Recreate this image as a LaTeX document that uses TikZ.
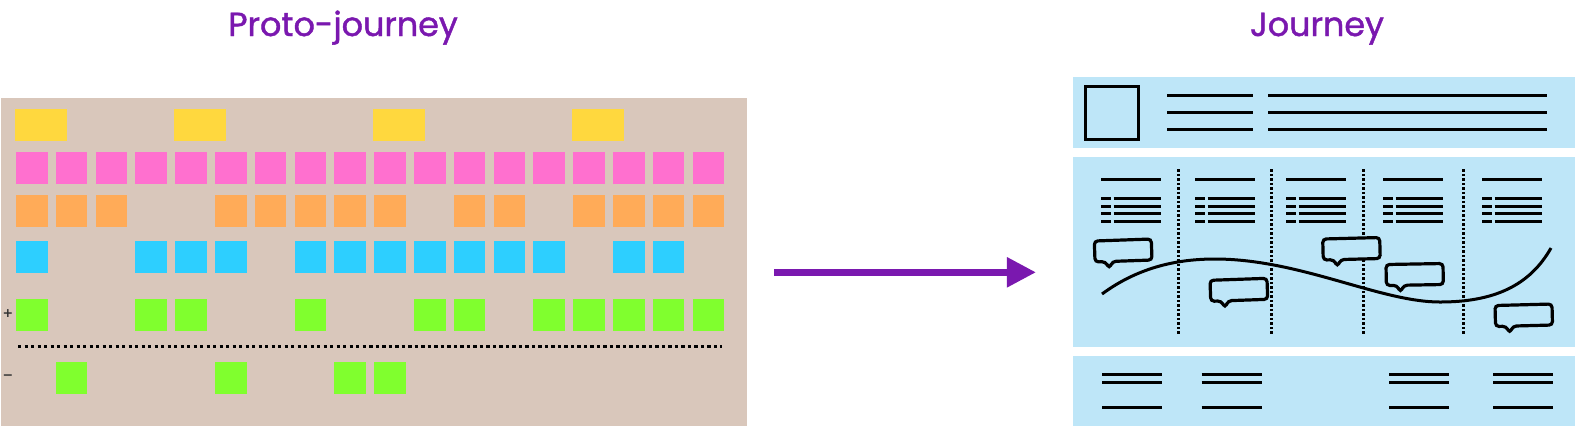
\documentclass[tikz,border=0pt]{standalone}
\usepackage{fontspec}
\newfontfamily\titlefont[FakeBold=1.3]{Poppins}
\newfontfamily\signfont{DejaVu Sans}
\usetikzlibrary{arrows.meta}

\begin{document}
\begin{tikzpicture}[x=0.01cm, y=-0.01cm]

  % --- Rahmen (1 Einheit = 1 Pixel der Vorlage) ---
  \useasboundingbox (0,0) rectangle (1575,426);

  % --- Farben ---
  \definecolor{colTitle}{HTML}{7A18AF} % Lila   – Titel und Pfeil
  \definecolor{colBoard}{HTML}{D9C7BB} % Beige  – Pinnwand
  \definecolor{colYel}{HTML}{FFD83E}   % Gelb   – Phasen
  \definecolor{colPink}{HTML}{FF70CF}  % Pink   – Schritte
  \definecolor{colOra}{HTML}{FFAB58}   % Orange
  \definecolor{colCyan}{HTML}{2DCFFF}  % Cyan
  \definecolor{colGreen}{HTML}{80FF2E} % Gruen  – Gefuehle
  \definecolor{colSky}{HTML}{BEE6F8}   % Hellblau – Journey-Felder

  % --- Hilfsmakros ---
  % \postit{Spalte}{Oberkante}{Farbe}
  \newcommand{\postit}[3]{%
    \fill[#3] ({16+39.8*#1},#2) rectangle ++(31.5,31.5);
  }
  % \phasecol{linker Rand}: Ueberschrift und Liste einer Spalte
  \newcommand{\phasecol}[1]{%
    \draw[line width=0.3mm] (#1,179.3) -- ++(60,0);
    \foreach \yy in {198.3,206,213.7,221.3} {
      \draw[line width=0.3mm] (#1,\yy) -- ++(9.5,0);
      \draw[line width=0.3mm] ({#1+12.5},\yy) -- ++(47.5,0);
    }
  }
  % \speech{x}{y}{Drehung}: Sprechblase
  \newcommand{\speech}[3]{%
    \begin{scope}[shift={(#1,#2)}, rotate=#3]
      \draw[line width=0.32mm, rounded corners=1pt, fill=colSky]
        (0,0) -- (57,0) -- (57,21) -- (17.5,21) -- (14,28) -- (10.5,21) -- (0,21) -- cycle;
    \end{scope}
  }

  % --- Titel ---
  \node[colTitle, anchor=base, font=\titlefont\fontsize{9.5}{11}\selectfont]
    (protoTitle) at (343,36) {Proto-journey};
  \node[colTitle, anchor=base, font=\titlefont\fontsize{9.5}{11}\selectfont]
    (journeyTitle) at (1317,36) {Journey};

  % --- Linke Seite: Pinnwand ---
  \fill[colBoard] (1,98) rectangle (747,426);

  % Gelb (breite Zettel)
  \foreach \c in {0,4,9,14}
    \fill[colYel] ({15+39.8*\c},109.3) rectangle ++(51.5,32);
  % Pink
  \foreach \c in {0,...,17} {\postit{\c}{152.3}{colPink}}
  % Orange
  \foreach \c in {0,1,2,5,6,7,8,9,11,12,14,15,16,17} {\postit{\c}{195.3}{colOra}}
  % Cyan
  \foreach \c in {0,3,4,5,7,8,9,10,11,12,13,15,16} {\postit{\c}{241}{colCyan}}
  % Gruen oben (+)
  \foreach \c in {0,3,4,7,10,11,13,14,15,16,17} {\postit{\c}{299.3}{colGreen}}
  % Gruen unten (-)
  \foreach \c in {1,5,8,9} {\postit{\c}{362}{colGreen}}

  % Trennlinie und Vorzeichen
  \draw[line width=0.3mm, dash pattern=on 0.33mm off 0.32mm] (18,346.7) -- (722,346.7);
  \node[font=\signfont\bfseries\fontsize{3.6}{4}\selectfont, text=black!80, inner sep=0]
    (plusSign) at (8,314) {+};
  \node[font=\signfont\bfseries\fontsize{3.6}{4}\selectfont, text=black!80, inner sep=0]
    (minusSign) at (8,377) {−};

  % --- Pfeil ---
  \coordinate (arrowStart) at (774,272.3);
  \coordinate (arrowEnd) at (1036,272.3);
  \draw[colTitle, line width=0.67mm, -{Triangle[length=2.9mm, width=2.85mm]}]
    (arrowStart) -- (arrowEnd);

  % --- Rechte Seite: Journey ---
  \fill[colSky] (1073,76.7) rectangle (1575,148.3);
  \fill[colSky] (1073,157.3) rectangle (1575,346.7);
  \fill[colSky] (1073,355.7) rectangle (1575,426);

  % Kopfzeile: Bild und Text
  \draw[line width=0.3mm] (1085.5,86.5) rectangle (1138,139);
  \foreach \yy in {95.7,112.3,129} {
    \draw[line width=0.3mm] (1167,\yy) -- (1253,\yy);
    \draw[line width=0.3mm] (1268,\yy) -- (1547,\yy);
  }

  % Spalten mit Trennlinien
  \foreach \xx in {1178.3,1271,1363.3,1463}
    \draw[line width=0.3mm, dash pattern=on 0.25mm off 0.2mm] (\xx,169.3) -- (\xx,334.3);
  \phasecol{1101}
  \phasecol{1195}
  \phasecol{1286}
  \phasecol{1383}
  \phasecol{1482}

  % Kurve
  \draw[line width=0.3mm] (1102,294) .. controls (1140,266) and (1180,259) .. (1215,259)
    .. controls (1300,259) and (1380,302) .. (1440,302)
    .. controls (1495,302) and (1530,285) .. (1551,248);

  % Sprechblasen
  \speech{1094.3}{241}{2}
  \speech{1210}{280.3}{2}
  \speech{1322.7}{239}{1.5}
  \speech{1386}{264.5}{1}
  \speech{1495}{305.5}{1.5}

  % Fusszeile
  \foreach \xx in {1102.3,1201.7,1389.3,1493.3} {
    \draw[line width=0.3mm] (\xx,374.3) -- ++(60,0);
    \draw[line width=0.3mm] (\xx,382.3) -- ++(60,0);
    \draw[line width=0.3mm] (\xx,407.7) -- ++(60,0);
  }

\end{tikzpicture}
\end{document}
